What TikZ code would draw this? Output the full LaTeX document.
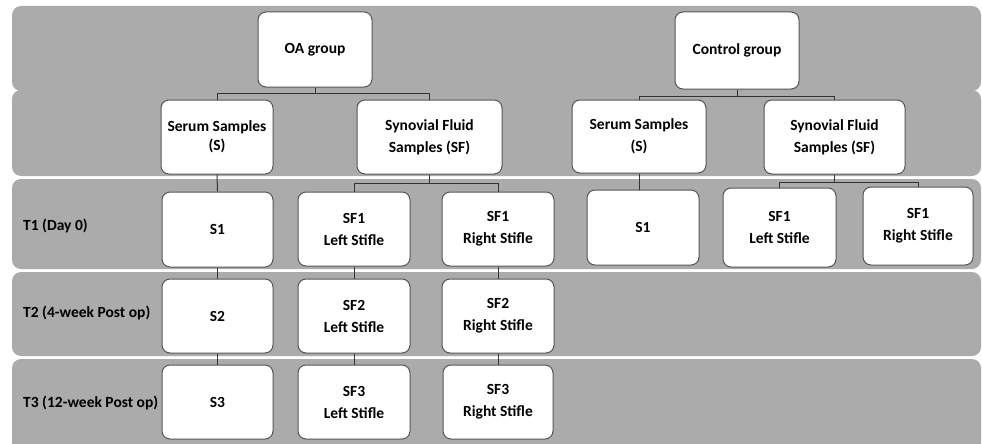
\documentclass[tikz,border=0pt]{standalone}
\usepackage{fontspec}
\setmainfont{Carlito}
\definecolor{bandgray}{HTML}{ABABAB}
\definecolor{edgegray}{HTML}{555555}
\begin{document}
\begin{tikzpicture}[x=1pt,y=-1pt,
  band/.style={fill=bandgray, draw=none, rounded corners=9pt},
  box/.style={draw=edgegray, fill=white, line width=1pt, rounded corners=8pt,
    align=center, font=\fontsize{15.5}{22}\selectfont\bfseries, inner sep=0pt},
  rowlabel/.style={anchor=west, font=\fontsize{15.5}{19}\selectfont\bfseries, inner sep=0pt},
  conn/.style={draw=black!80, line width=1pt}]
\useasboundingbox (0,0) rectangle (982,444);
% bands
\fill[band] (12,6) rectangle (981,91);
\fill[band] (12,90) rectangle (981,176);
\fill[band] (12,179) rectangle (981,269);
\fill[band] (12,272) rectangle (981,356);
\fill[band] (12,359) rectangle (981,452);
% row labels
\node[rowlabel] (t1) at (23,226) {T1 (Day 0)};
\node[rowlabel] (t2) at (23,313) {T2 (4-week Post op)};
\node[rowlabel] (t3) at (23,403) {T3 (12-week Post op)};
% OA group
\node[box, minimum width=114, minimum height=75] (oa) at (315,49.5) {OA group};
\node[box, minimum width=112, minimum height=74, font=\fontsize{15.5}{19}\selectfont\bfseries] (oaS) at (217,137) {Serum Samples\\(S)};
\node[box, minimum width=145, minimum height=74] (oaSF) at (429.5,137) {Synovial Fluid\\Samples (SF)};
\node[box, minimum width=111, minimum height=75] (oaS1) at (217.5,229.5) {S1};
\node[box, minimum width=112, minimum height=74] (oaL1) at (354,229) {SF1\\Left Stifle};
\node[box, minimum width=112, minimum height=74] (oaR1) at (498,229) {SF1\\Right Stifle};
\node[box, minimum width=111, minimum height=74] (oaS2) at (217.5,316) {S2};
\node[box, minimum width=112, minimum height=74] (oaL2) at (354,316) {SF2\\Left Stifle};
\node[box, minimum width=112, minimum height=74] (oaR2) at (498,316) {SF2\\Right Stifle};
\node[box, minimum width=111, minimum height=74] (oaS3) at (217.5,402) {S3};
\node[box, minimum width=112, minimum height=74] (oaL3) at (354,402) {SF3\\Left Stifle};
\node[box, minimum width=110, minimum height=74] (oaR3) at (498,402) {SF3\\Right Stifle};
% Control group
\node[box, minimum width=124, minimum height=77] (ct) at (737,50.5) {Control group};
\node[box, minimum width=134, minimum height=73] (ctS) at (639,136.5) {Serum Samples\\(S)};
\node[box, minimum width=141, minimum height=74] (ctSF) at (834.5,137) {Synovial Fluid\\Samples (SF)};
\node[box, minimum width=112, minimum height=75] (ctS1) at (643,227.5) {S1};
\node[box, minimum width=113, minimum height=79] (ctL) at (779.5,227.5) {SF1\\Left Stifle};
\node[box, minimum width=110, minimum height=78] (ctR) at (918,226) {SF1\\Right Stifle};
% connectors OA
\coordinate (oaBar) at (oa.south |- 0,93);
\draw[conn] (oa.south) -- (oaBar) -| (oaS.north);
\draw[conn] (oaBar) -| (oaSF.north);
\coordinate (sfBar) at (oaSF.south |- 0,183);
\draw[conn] (oaSF.south) -- (sfBar) -| (oaL1.north);
\draw[conn] (sfBar) -| (oaR1.north);
\draw[conn] (oaS.south) -- (oaS1.north);
\draw[conn] (oaS1.south) -- (oaS2.north);
\draw[conn] (oaS2.south) -- (oaS3.north);
\draw[conn] (oaL1.south) -- (oaL2.north);
\draw[conn] (oaL2.south) -- (oaL3.north);
\draw[conn] (oaR1.south) -- (oaR2.north);
\draw[conn] (oaR2.south) -- (oaR3.north);
% connectors Control
\coordinate (ctBar) at (ct.south |- 0,96);
\draw[conn] (ct.south) -- (ctBar) -| (ctS.north);
\draw[conn] (ctBar) -| (ctSF.north);
\coordinate (ctsfBar) at (ctSF.south |- 0,182);
\draw[conn] (ctSF.south) -- (ctsfBar) -| (ctL.north);
\draw[conn] (ctsfBar) -| (ctR.north);
\draw[conn] (ctS.south) -- (ctS.south |- ctS1.north);
\end{tikzpicture}
\end{document}
